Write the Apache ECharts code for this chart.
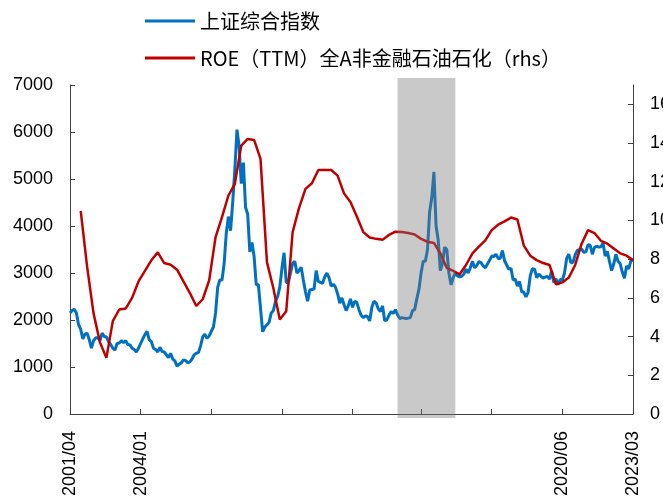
<!DOCTYPE html>
<html>
<head>
<meta charset="utf-8">
<title>上证综合指数 与 ROE（TTM）</title>
<script src="https://cdn.jsdelivr.net/npm/echarts@6/dist/echarts.min.js"></script>
<style>
  html, body { margin: 0; padding: 0; background: #ffffff; }
  #chart { width: 663px; height: 504px; }
</style>
</head>
<body>
<div id="chart"></div>
<script>
// ---- data -------------------------------------------------------------
const seriesNames = ['上证综合指数', 'ROE（TTM）全A非金融石油石化（rhs）'];

// first month of the monthly index series
const startYear = 2001;
const startMonth = 4;

// Shanghai Composite, monthly level (2001/04 .. 2023/03)
const sseIndex = [
  // 2001 (Apr-Dec)
  2150, 2200, 2230, 2150, 1900, 1800, 1600, 1700, 1720,
  // 2002
  1580, 1400, 1560, 1620, 1620, 1560, 1720, 1650, 1640, 1540, 1480, 1400,
  // 2003
  1360, 1500, 1510, 1560, 1520, 1560, 1480, 1470, 1400, 1370, 1320, 1400,
  // 2004
  1500, 1600, 1690, 1760, 1580, 1540, 1400, 1370, 1320, 1420, 1330, 1320,
  // 2005
  1260, 1200, 1290, 1170, 1130, 1020, 1060, 1090, 1150, 1140, 1090, 1110,
  // 2006
  1170, 1260, 1290, 1310, 1450, 1640, 1700, 1610, 1660, 1760, 1850, 2150,
  // 2007
  2700, 2850, 2850, 3200, 3850, 4200, 3900, 4500, 5200, 6050, 5700, 4900,
  // 2008
  5350, 4400, 4250, 3450, 3650, 3350, 2750, 2750, 2250, 1750, 1850, 1900,
  // 2009
  1950, 2150, 2200, 2400, 2500, 2700, 3100, 3430, 2800, 2800, 3000, 3200,
  // 2010
  3250, 3000, 3050, 3120, 2850, 2600, 2400, 2640, 2650, 2660, 3050, 2820,
  // 2011
  2800, 2780, 2920, 3000, 2900, 2720, 2760, 2700, 2560, 2360, 2470, 2330,
  // 2012
  2200, 2300, 2450, 2270, 2400, 2370, 2220, 2100, 2050, 2090, 2070, 1980,
  // 2013
  2270, 2400, 2360, 2240, 2180, 2300, 1990, 2000, 2100, 2180, 2140, 2220,
  // 2014
  2110, 2030, 2050, 2040, 2030, 2040, 2050, 2200, 2220, 2450, 2650, 3000,
  // 2015
  3250, 3250, 3500, 4300, 4600, 5150, 4000, 3700, 3050, 3200, 3550, 3500,
  // 2016
  3000, 2750, 2900, 3000, 2940, 2920, 2930, 2980, 3080, 3000, 3110, 3250,
  // 2017
  3110, 3160, 3240, 3220, 3150, 3110, 3190, 3270, 3360, 3350, 3400, 3310,
  // 2018
  3310, 3480, 3260, 3170, 3080, 3100, 2850, 2870, 2720, 2820, 2600, 2590,
  // 2019
  2490, 2590, 2940, 3090, 3080, 2900, 2980, 2930, 2890, 2910, 2930, 2870,
  // 2020
  3050, 2800, 2880, 2750, 2860, 2850, 3000, 3310, 3400, 3220, 3230, 3390,
  // 2021
  3480, 3500, 3510, 3440, 3450, 3600, 3590, 3400, 3540, 3570, 3550, 3560,
  // 2022
  3640, 3360, 3460, 3250, 3050, 3190, 3400, 3250, 3200, 3020, 2890, 3150,
  // 2023 (Jan-Mar)
  3090, 3260, 3280
];

// ROE (TTM), quarterly, first quarter end 2001/09 (%)
const roeFirst = '2001/09';
const roeTTM = [
  10.5, 7.6, 5.2, 3.7, 2.9, 4.8, 5.4, 5.45, 6.0, 6.85,
  7.4, 7.94, 8.35, 7.8, 7.71, 7.46, 6.85, 6.25, 5.58, 5.93,
  6.9, 9.14, 10.17, 11.29, 11.89, 13.87, 14.21, 14.16, 13.18, 7.85,
  6.5, 4.88, 5.31, 9.4, 10.65, 11.63, 11.92, 12.61, 12.61, 12.61,
  12.32, 11.4, 10.95, 10.2, 9.4, 9.12, 9.05, 9.0, 9.25, 9.42,
  9.4, 9.35, 9.28, 9.05, 8.9, 8.84, 8.3, 7.55, 7.39, 7.22,
  7.7, 8.3, 8.65, 8.97, 9.5, 9.78, 9.95, 10.15, 10.05, 8.7,
  8.18, 7.95, 7.8, 7.7, 6.7, 6.8, 7.05, 7.7, 8.8, 9.5,
  9.35, 8.95, 8.8, 8.55, 8.3, 8.18, 7.95
];

// shaded period
const shadeStart = '2014/01';
const shadeEnd = '2016/04';

// axis ticks
const leftTicks = { min: 0, max: 7000, interval: 1000 };
const rightMax = 17;
const rightTicks = [0, 2, 4, 6, 8, 10, 12, 14, 16];
const xLabelMonths = ['2001/04', '2004/01', '2020/06', '2023/03'];
const xTickCount = 8; // equal divisions of the time span

// ---- build categories -------------------------------------------------
function monthLabel(y, m) {
  return y + '/' + (m < 10 ? '0' + m : '' + m);
}
const months = [];
for (let i = 0; i < sseIndex.length; i++) {
  const t = (startMonth - 1) + i;
  months.push(monthLabel(startYear + Math.floor(t / 12), (t % 12) + 1));
}

const roeStartIdx = months.indexOf(roeFirst);
const roeData = roeTTM.map((v, k) => [months[roeStartIdx + 3 * k], v]);

const lastIdx = months.length - 1;
const tickIdx = [];
for (let k = 0; k <= xTickCount; k++) tickIdx.push(Math.round(k * lastIdx / xTickCount));
const labelIdx = xLabelMonths.map(m => months.indexOf(m));

// ---- chart ------------------------------------------------------------
const chart = echarts.init(document.getElementById('chart'), null, { renderer: 'canvas' });

const axisFont = { fontFamily: 'Liberation Sans, Arial, sans-serif', fontSize: 18, color: '#000000' };
const axisLineStyle = { color: '#404040', width: 1 };

chart.setOption({
  animation: false,
  backgroundColor: '#ffffff',
  legend: {
    data: seriesNames,
    orient: 'vertical',
    left: 140,
    top: 6,
    icon: 'rect',
    itemWidth: 50,
    itemHeight: 3,
    itemGap: 17,
    textStyle: { fontFamily: 'Noto Sans CJK SC, sans-serif', fontSize: 20, color: '#000000' }
  },
  grid: { left: 70, right: 30, top: 85, bottom: 90, containLabel: false, outerBoundsMode: 'none' },
  xAxis: {
    type: 'category',
    data: months,
    boundaryGap: false,
    axisLine: { lineStyle: axisLineStyle },
    axisTick: {
      inside: true,
      length: 5,
      lineStyle: axisLineStyle,
      interval: (idx) => tickIdx.indexOf(idx) >= 0
    },
    axisLabel: Object.assign({
      rotate: 90,
      margin: 17,
      interval: (idx) => labelIdx.indexOf(idx) >= 0
    }, axisFont),
    splitLine: { show: false }
  },
  yAxis: [
    {
      type: 'value',
      min: leftTicks.min,
      max: leftTicks.max,
      interval: leftTicks.interval,
      axisLine: { show: true, lineStyle: axisLineStyle },
      axisTick: { show: true, inside: true, length: 5, lineStyle: axisLineStyle },
      axisLabel: Object.assign({ margin: 17, formatter: (v) => String(v) }, axisFont),
      splitLine: { show: false }
    },
    {
      type: 'value',
      position: 'right',
      min: 0,
      max: rightMax,
      axisLine: { show: true, lineStyle: axisLineStyle },
      axisTick: { show: true, inside: true, length: 5, lineStyle: axisLineStyle, customValues: rightTicks },
      axisLabel: Object.assign({ margin: 17, customValues: rightTicks, formatter: (v) => String(v) }, axisFont),
      splitLine: { show: false }
    }
  ],
  series: [
    {
      name: seriesNames[0],
      type: 'line',
      yAxisIndex: 0,
      data: sseIndex,
      symbol: 'none',
      lineStyle: { color: '#0070C0', width: 3 },
      itemStyle: { color: '#0070C0' },
      z: 2
    },
    {
      name: seriesNames[1],
      type: 'line',
      yAxisIndex: 1,
      data: roeData,
      symbol: 'none',
      lineStyle: { color: '#C00000', width: 2.5 },
      itemStyle: { color: '#C00000' },
      z: 3
    },
    {
      name: 'shade',
      type: 'custom',
      yAxisIndex: 1,
      silent: true,
      clip: false,
      z: 10,
      encode: { x: [0, 1] },
      data: [[months.indexOf(shadeStart), months.indexOf(shadeEnd)]],
      renderItem: function (params, api) {
        const cs = params.coordSys;
        const p0 = api.coord([api.value(0), 0]);
        const p1 = api.coord([api.value(1), 0]);
        return {
          type: 'rect',
          shape: { x: p0[0], y: cs.y - 7, width: p1[0] - p0[0], height: cs.height + 11 },
          style: { fill: 'rgba(119,119,119,0.4)' }
        };
      }
    }
  ]
});
</script>
</body>
</html>
